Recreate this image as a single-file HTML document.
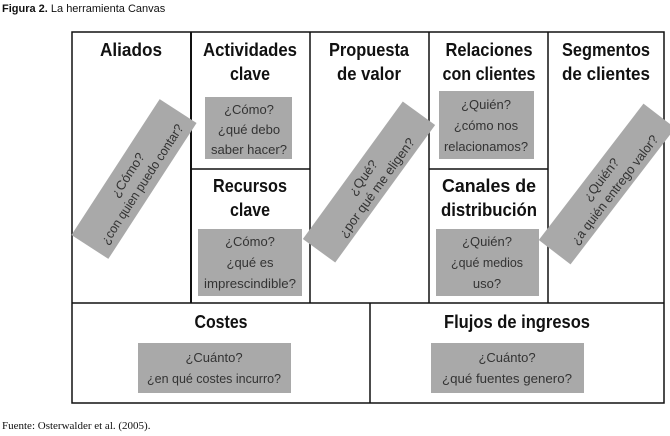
<!DOCTYPE html>
<html><head><meta charset="utf-8"><style>
html,body{margin:0;padding:0;background:#fff;width:670px;height:436px;overflow:hidden}
svg{display:block}
.h{font-family:"Liberation Sans",sans-serif;font-weight:bold;font-size:18px;fill:#111;text-anchor:middle}
.t{font-family:"Liberation Sans",sans-serif;font-size:13px;fill:#333;text-anchor:middle}
</style></head><body>
<svg width="670" height="436" viewBox="0 0 670 436">
<text x="2" y="12" style="font-family:'Liberation Sans',sans-serif;font-size:11px;fill:#111"><tspan font-weight="bold">Figura 2.</tspan> La herramienta Canvas</text>
<text x="2" y="429" style="font-family:'Liberation Serif',serif;font-size:11px;fill:#111">Fuente: Osterwalder et al. (2005).</text>

<g fill="#a9a9a9">
<rect x="205" y="97" width="87" height="62"/>
<rect x="198" y="229" width="104" height="67"/>
<rect x="439" y="91" width="95" height="68"/>
<rect x="436" y="229" width="103" height="67"/>
<rect x="138" y="343" width="153" height="50"/>
<rect x="431" y="343" width="153" height="50"/>
</g>

<g stroke="#111" stroke-width="1.5" fill="none">
<rect x="72" y="32" width="592" height="371"/>
<line x1="72" y1="303" x2="664" y2="303"/>
<line x1="191" y1="32" x2="191" y2="303" stroke-width="2"/>
<line x1="310" y1="32" x2="310" y2="303"/>
<line x1="429" y1="32" x2="429" y2="303"/>
<line x1="548" y1="32" x2="548" y2="303"/>
<line x1="370" y1="303" x2="370" y2="403"/>
<line x1="191" y1="169" x2="310" y2="169"/>
<line x1="429" y1="169" x2="548" y2="169"/>
</g>

<g transform="translate(134,179) rotate(-57)">
<rect x="-81" y="-22" width="162" height="44" fill="#a9a9a9"/>
<text class="t" y="-3" textLength="50" lengthAdjust="spacingAndGlyphs">¿Cómo?</text>
<text class="t" y="14" textLength="140" lengthAdjust="spacingAndGlyphs">¿con quien puedo contar?</text>
</g>
<g transform="translate(369,182) rotate(-54)">
<rect x="-85" y="-20" width="170" height="40" fill="#a9a9a9"/>
<text class="t" y="-3">¿Qué?</text>
<text class="t" y="14">¿por qué me eligen?</text>
</g>
<g transform="translate(607,184) rotate(-52.5)">
<rect x="-86" y="-20" width="172" height="40" fill="#a9a9a9"/>
<text class="t" y="-3">¿Quién?</text>
<text class="t" y="14" textLength="134" lengthAdjust="spacingAndGlyphs">¿a quién entrego valor?</text>
</g>

<text class="h" x="131" y="56" textLength="62" lengthAdjust="spacingAndGlyphs">Aliados</text>
<text class="h" x="250" y="56" textLength="94" lengthAdjust="spacingAndGlyphs">Actividades</text>
<text class="h" x="250" y="80" textLength="40" lengthAdjust="spacingAndGlyphs">clave</text>
<text class="h" x="369" y="56" textLength="80" lengthAdjust="spacingAndGlyphs">Propuesta</text>
<text class="h" x="369" y="80" textLength="64" lengthAdjust="spacingAndGlyphs">de valor</text>
<text class="h" x="489" y="56" textLength="87" lengthAdjust="spacingAndGlyphs">Relaciones</text>
<text class="h" x="489" y="80" textLength="93" lengthAdjust="spacingAndGlyphs">con clientes</text>
<text class="h" x="606" y="56" textLength="88" lengthAdjust="spacingAndGlyphs">Segmentos</text>
<text class="h" x="606" y="80" textLength="88" lengthAdjust="spacingAndGlyphs">de clientes</text>
<text class="h" x="250" y="192" textLength="74" lengthAdjust="spacingAndGlyphs">Recursos</text>
<text class="h" x="250" y="216" textLength="40" lengthAdjust="spacingAndGlyphs">clave</text>
<text class="h" x="489" y="192" textLength="94" lengthAdjust="spacingAndGlyphs">Canales de</text>
<text class="h" x="489" y="216" textLength="96" lengthAdjust="spacingAndGlyphs">distribución</text>
<text class="h" x="221" y="328" textLength="53" lengthAdjust="spacingAndGlyphs">Costes</text>
<text class="h" x="517" y="328" textLength="146" lengthAdjust="spacingAndGlyphs">Flujos de ingresos</text>

<text class="t" x="249" y="114">¿Cómo?</text>
<text class="t" x="249" y="134">¿qué debo</text>
<text class="t" x="249" y="154" textLength="76" lengthAdjust="spacingAndGlyphs">saber hacer?</text>
<text class="t" x="250" y="246">¿Cómo?</text>
<text class="t" x="250" y="267">¿qué es</text>
<text class="t" x="250" y="288" textLength="92" lengthAdjust="spacingAndGlyphs">imprescindible?</text>
<text class="t" x="486" y="109">¿Quién?</text>
<text class="t" x="486" y="130">¿cómo nos</text>
<text class="t" x="486" y="151" textLength="84" lengthAdjust="spacingAndGlyphs">relacionamos?</text>
<text class="t" x="487" y="246">¿Quién?</text>
<text class="t" x="487" y="267" textLength="72" lengthAdjust="spacingAndGlyphs">¿qué medios</text>
<text class="t" x="487" y="288">uso?</text>
<text class="t" x="214" y="362">¿Cuánto?</text>
<text class="t" x="214" y="383" textLength="134" lengthAdjust="spacingAndGlyphs">¿en qué costes incurro?</text>
<text class="t" x="507" y="362">¿Cuánto?</text>
<text class="t" x="507" y="383" textLength="130" lengthAdjust="spacingAndGlyphs">¿qué fuentes genero?</text>
</svg>
</body></html>
